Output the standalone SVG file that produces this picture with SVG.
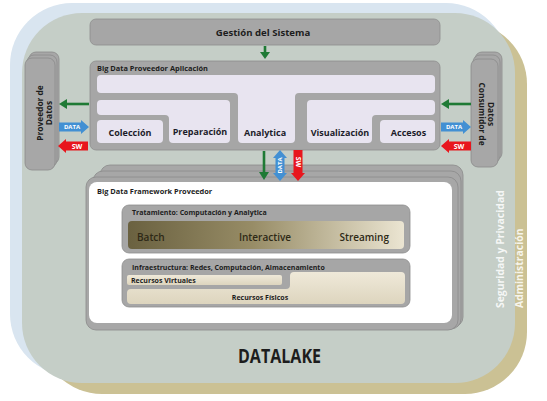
<svg xmlns="http://www.w3.org/2000/svg" xmlns:xlink="http://www.w3.org/1999/xlink" width="547" height="401" viewBox="0 0 547 401">
<style>
text{font-family:"Open Sans","Noto Sans","DejaVu Sans",sans-serif;font-weight:700;fill:#1d1d1d}
.box{fill:#a6a6a6;stroke:#8e8e8e;stroke-width:0.8}
.lav{fill:#e8e4f0}
.lbl{font-size:9px;text-anchor:middle;fill:#1c1c2a}
.ttl{font-size:7.4px}
.sub{font-size:7px}
.tan{fill:url(#tanG)}
.stk{fill:#a7a7a7;stroke:#8a8a8a;stroke-width:0.8}
.green{fill:#1f7a35}
.gl{stroke:#1f7a35;stroke-width:2.6;fill:none}
.blue{fill:#4290d3}
.red{fill:#e8161d}
.at{font-size:6px;fill:#ffffff;text-anchor:middle}
.side{font-size:10.4px;fill:#ffffff;fill-opacity:0.85}
.gt{font-size:10px;font-weight:600;fill:#2e2916}
</style>
<defs>
<linearGradient id="procG" x1="0" y1="0" x2="1" y2="0">
<stop offset="0" stop-color="#6a6140"/>
<stop offset="0.45" stop-color="#978c66"/>
<stop offset="1" stop-color="#ebe5d2"/>
</linearGradient>
<linearGradient id="tanG" x1="0" y1="0" x2="0" y2="1">
<stop offset="0" stop-color="#efe9d9"/>
<stop offset="1" stop-color="#ddd5be"/>
</linearGradient>
<path id="arrR" d="M0,-4.5 H22 V-7 L30,0 L22,7 V4.5 H0 Z"/>
</defs>

<!-- background layers -->
<rect x="10" y="3" width="498" height="373" rx="62" fill="#d9e5f0"/>
<rect x="40" y="22" width="487" height="372" rx="62" fill="#cbc194"/>
<rect x="22" y="13" width="493" height="370" rx="60" fill="#c5cec7"/>

<g id="seguridad">
<text class="side" transform="translate(504,308) rotate(-90)">Seguridad y Privacidad</text>
</g>
<g id="administracion">
<text class="side" transform="translate(523,308) rotate(-90)">Administración</text>
</g>
<g id="datalake">
<text x="238" y="363" font-size="19" textLength="83" lengthAdjust="spacingAndGlyphs" fill="#111">DATALAKE</text>
</g>

<g id="gestion">
<rect class="box" x="90" y="19" width="350" height="26" rx="6"/>
<text x="263" y="36" font-size="9.6" text-anchor="middle">Gestión del Sistema</text>
</g>

<g id="proveedor-datos">
<rect class="stk" x="29" y="52" width="30" height="112" rx="7"/>
<rect class="stk" x="27" y="55" width="30" height="112" rx="7"/>
<rect class="stk" x="25" y="58" width="30" height="112" rx="7"/>
<text text-anchor="middle" transform="translate(43,113) rotate(-90)" style="font-size:8.4px">Proveedor de</text>
<text text-anchor="middle" transform="translate(52,113) rotate(-90)" style="font-size:8.4px">Datos</text>
</g>

<g id="consumidor-datos">
<rect class="stk" x="475" y="52" width="27" height="108" rx="7"/>
<rect class="stk" x="473" y="55" width="27" height="108" rx="7"/>
<rect class="stk" x="471" y="59" width="27" height="108" rx="7"/>
<text text-anchor="middle" transform="translate(478.5,114) rotate(90)" style="font-size:8.4px">Consumidor de</text>
<text text-anchor="middle" transform="translate(488,114) rotate(90)" style="font-size:8.4px">Datos</text>
</g>

<g id="app-proveedor">
<rect class="box" x="90" y="61" width="350" height="89" rx="6"/>
<text class="ttl" x="97" y="71">Big Data Proveedor Aplicación</text>
<path class="lav" d="M101,75 H431 Q435,75 435,79 V89 Q435,93 431,93 H299 Q295,93 295,97 V139 Q295,143 291,143 H242 Q238,143 238,139 V97 Q238,93 234,93 H101 Q97,93 97,89 V79 Q97,75 101,75 Z"/>
<path class="lav" d="M101,100 H226 Q230,100 230,104 V139 Q230,143 226,143 H173 Q169,143 169,139 V119 Q169,115 165,115 H101 Q97,115 97,111 V104 Q97,100 101,100 Z"/>
<rect class="lav" x="97" y="120" width="66" height="23" rx="4"/>
<path class="lav" d="M311,100 H431 Q435,100 435,104 V111 Q435,115 431,115 H376 Q372,115 372,119 V139 Q372,143 368,143 H311 Q307,143 307,139 V104 Q307,100 311,100 Z"/>
<rect class="lav" x="380" y="120" width="55" height="23" rx="4"/>
<text class="lbl" x="130" y="136">Colección</text>
<text class="lbl" x="200" y="135">Preparación</text>
<text class="lbl" x="265" y="136">Analytica</text>
<text class="lbl" x="340" y="136">Visualización</text>
<text class="lbl" x="408.5" y="136">Accesos</text>
</g>

<g id="framework-proveedor">
<rect class="stk" x="100" y="165" width="363" height="162" rx="10"/>
<rect class="stk" x="93" y="171" width="368" height="158" rx="10"/>
<rect class="stk" x="86" y="177" width="372" height="153" rx="10"/>
<rect x="89" y="182" width="363" height="141" rx="8" fill="#ffffff"/>
<text class="ttl" x="97" y="194">Big Data Framework Proveedor</text>
<g id="tratamiento">
<rect class="box" x="122" y="205" width="288" height="48" rx="7"/>
<text class="sub" x="132" y="215">Tratamiento: Computación y Analytica</text>
<rect x="128" y="221" width="276" height="28" rx="4" fill="url(#procG)"/>
<text class="gt" x="137" y="241">Batch</text>
<text class="gt" x="265" y="241" text-anchor="middle">Interactive</text>
<text class="gt" x="389" y="241" text-anchor="end">Streaming</text>
</g>
<g id="infraestructura">
<rect class="box" x="122" y="259" width="288" height="48" rx="7"/>
<text class="sub" x="132" y="270">Infraestructura: Redes, Computación, Almacenamiento</text>
<rect class="tan" x="127" y="275" width="155" height="10" rx="2"/>
<text class="sub" x="131" y="283">Recursos Virtuales</text>
<path class="tan" d="M294,272 H401 Q405,272 405,276 V300 Q405,304 401,304 H131 Q127,304 127,300 V293 Q127,289 131,289 H286 Q290,289 290,285 V276 Q290,272 294,272 Z"/>
<text class="sub" x="260" y="300" text-anchor="middle">Recursos Físicos</text>
</g>
</g>

<g id="connectors">
<path class="gl" d="M265,46 V53"/><path class="green" d="M260,52 L270,52 L265,59 Z"/>
<path class="gl" d="M89,104 H66"/><path class="green" d="M67,99 L67,109 L59,104 Z"/>
<path class="gl" d="M471,104 H448"/><path class="green" d="M449,99 L449,109 L441,104 Z"/>
<path class="gl" d="M264,151 V173"/><path class="green" d="M259,172 L269,172 L264,180 Z"/>
<use href="#arrR" class="blue" transform="translate(59,127)"/>
<text class="at" x="72" y="129.2">DATA</text>
<use href="#arrR" class="red" transform="translate(88,146) scale(-1,1)"/>
<text class="at" x="77" y="148.5" style="font-size:7px">SW</text>
<use href="#arrR" class="blue" transform="translate(441,127)"/>
<text class="at" x="454" y="129.2">DATA</text>
<use href="#arrR" class="red" transform="translate(471,146) scale(-1,1)"/>
<text class="at" x="459" y="148.5" style="font-size:7px">SW</text>
<path class="blue" d="M280,150 L287,158 H284.5 V173 H287 L280,181 L273,173 H275.5 V158 H273 Z"/>
<text class="at" transform="translate(282.2,165.5) rotate(-90)">DATA</text>
<path class="red" d="M293.5,150 H302.5 V173 H305 L298,181 L291,173 H293.5 Z"/>
<text class="at" transform="translate(295.5,162) rotate(90)" style="font-size:7px">SW</text>
</g>
</svg>
